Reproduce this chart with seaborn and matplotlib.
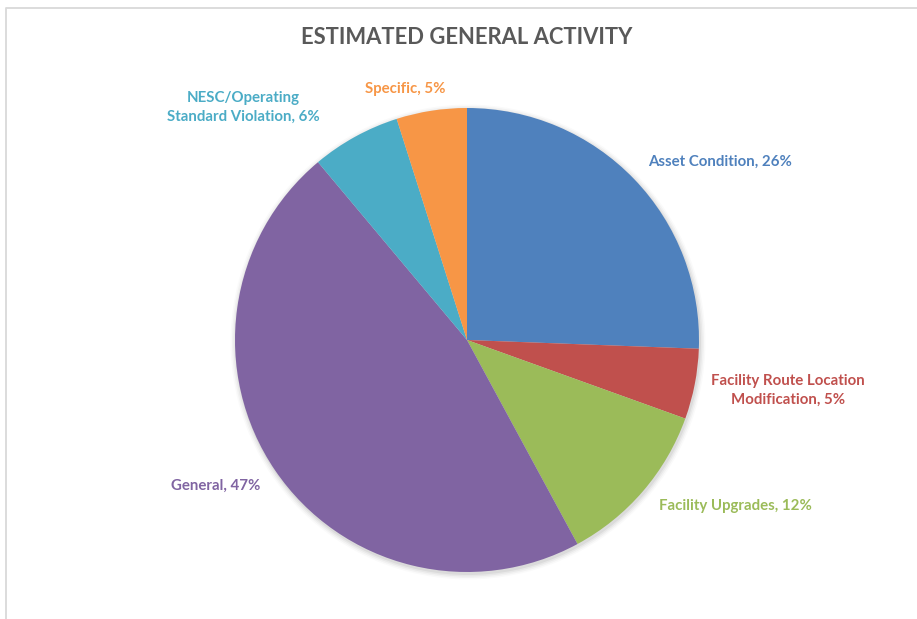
import numpy as np
import matplotlib
matplotlib.use("Agg")
import matplotlib.pyplot as plt
import seaborn as sns
from matplotlib.patches import Circle

categories = ["Asset Condition", "Facility Route Location\nModification", "Facility Upgrades",
              "General", "NESC/Operating\nStandard Violation", "Specific"]
values = [25.6, 4.9, 11.6, 46.8, 6.2, 4.9]
pct_labels = ["26%", "5%", "12%", "47%", "6%", "5%"]
colors = ["#4F81BD", "#C0504D", "#9BBB59", "#8064A2", "#4BACC6", "#F79646"]
title = "ESTIMATED GENERAL ACTIVITY"

sns.set_style("white")
plt.rcParams['font.family'] = ['Lato', 'DejaVu Sans']

W, H = 917, 619
fig = plt.figure(figsize=(W / 100, H / 100), dpi=100)
ax = fig.add_axes([0, 0, 1, 1])

# chart frame (top and left visible)
ax.plot([5.5, 5.5, W + 5], [-5, H - 7.5, H - 7.5], color="#D9D9D9", lw=1.3, clip_on=False)

cx, cy, r = 467, H - 340, 232

# soft shadow
for i, a in enumerate([0.05, 0.04, 0.03, 0.02]):
    ax.add_patch(Circle((cx + 1, cy - 2), r + 1 + i * 1.5, color="black", alpha=a, lw=0, zorder=1))

wedges, _ = ax.pie(values, colors=sns.color_palette(colors), startangle=90, counterclock=False,
                   center=(cx, cy), radius=r, frame=True,
                   wedgeprops=dict(linewidth=0, zorder=2))
ax.set_xlim(0, W)
ax.set_ylim(0, H)
ax.set_aspect('equal')
ax.axis('off')

# label placement: (distance factor relative to radius, angle shift in degrees)
label_cfg = [
    (1.335, -8.8),   # Asset Condition
    (1.40, 2.1),     # Facility Route
    (1.359, 8.9),    # Facility Upgrades
    (1.252, -4.0),   # General
    (1.393, 15.1),   # NESC
    (1.114, 5.1),    # Specific
]
for w, cat, pct, col, (d, sh) in zip(wedges, categories, pct_labels, colors, label_cfg):
    ang = np.deg2rad((w.theta1 + w.theta2) / 2 + sh)
    x = cx + r * d * np.cos(ang)
    y = cy + r * d * np.sin(ang)
    ax.text(x, y, f"{cat}, {pct}", color=col, fontsize=10.8, fontweight="bold",
            ha="center", va="center", multialignment="center", linespacing=1.45)

ax.text(467, H - 37, title, ha="center", va="center", fontsize=15.8, fontweight="bold", color="#595959")

fig.savefig("out.png", dpi=100)
